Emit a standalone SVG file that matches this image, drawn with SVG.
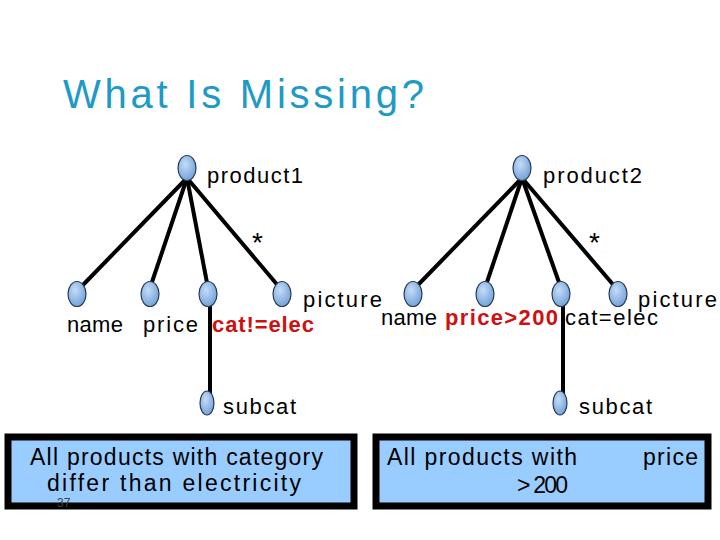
<svg xmlns="http://www.w3.org/2000/svg" width="720" height="540" viewBox="0 0 720 540">
<defs>
<radialGradient id="g" cx="0.4" cy="0.35" r="0.7">
<stop offset="0" stop-color="#c4dcf7"/>
<stop offset="1" stop-color="#6f9fd6"/>
</radialGradient>
<style>
.n{fill:url(#g);stroke:#2a3a5a;stroke-width:1.2}
.e{stroke:#000;stroke-width:4;fill:none}
.t{font-family:"Liberation Sans","DejaVu Sans",sans-serif;font-size:22px;fill:#000}
.r{font-family:"Liberation Sans","DejaVu Sans",sans-serif;font-size:22px;font-weight:bold;fill:#d01010}
.s{font-family:"Liberation Sans","DejaVu Sans",sans-serif;font-size:28px;fill:#000}
.b{fill:#99ccff;stroke:#000;stroke-width:7}
.bt{font-family:"Liberation Sans","DejaVu Sans",sans-serif;font-size:23px;fill:#000}
</style>
</defs>
<rect width="720" height="540" fill="#fff"/>
<text x="63" y="108" font-family="Liberation Sans, DejaVu Sans, sans-serif" font-size="40" fill="#1e9bc4" textLength="361">What Is Missing?</text>
<g id="connectors">
<line class="e" x1="187" y1="178" x2="80" y2="288"/>
<line class="e" x1="187" y1="178" x2="150" y2="288"/>
<line class="e" x1="187" y1="178" x2="208" y2="288"/>
<line class="e" x1="187" y1="178" x2="280" y2="288"/>
<line class="e" x1="210" y1="300" x2="210" y2="398"/>
<line class="e" x1="522" y1="178" x2="415" y2="288"/>
<line class="e" x1="522" y1="178" x2="485" y2="288"/>
<line class="e" x1="522" y1="178" x2="561" y2="288"/>
<line class="e" x1="522" y1="178" x2="616" y2="288"/>
<line class="e" x1="563" y1="300" x2="563" y2="398"/>
</g>
<g id="product1"><ellipse class="n" cx="187" cy="168" rx="9" ry="12.5"/><text class="t" x="207" y="183" textLength="96">product1</text></g>
<g id="product2"><ellipse class="n" cx="522" cy="168" rx="9" ry="12.5"/><text class="t" x="543" y="183" textLength="99">product2</text></g>
<text class="s" x="252" y="252">*</text>
<text class="s" x="589" y="252">*</text>
<g id="name1"><ellipse class="n" cx="77" cy="294" rx="9" ry="12.5"/><text class="t" x="67" y="332" textLength="56">name</text></g>
<g id="price1"><ellipse class="n" cx="150" cy="294" rx="9" ry="12.5"/><text class="t" x="143" y="332" textLength="55">price</text></g>
<g id="cat1"><ellipse class="n" cx="208" cy="294" rx="9" ry="12.5"/><text class="r" x="212" y="332" textLength="102">cat!=elec</text></g>
<g id="picture1"><ellipse class="n" cx="282" cy="294" rx="9" ry="12.5"/><text class="t" x="303" y="307" textLength="79">picture</text></g>
<g id="subcat1"><ellipse class="n" cx="207" cy="403" rx="7" ry="12"/><text class="t" x="223" y="414" textLength="73">subcat</text></g>
<g id="name2"><ellipse class="n" cx="413" cy="294" rx="9" ry="12.5"/><text class="t" x="381" y="325" textLength="56">name</text></g>
<g id="price2"><ellipse class="n" cx="485" cy="294" rx="9" ry="12.5"/><text class="r" x="445" y="325" textLength="113">price&gt;200</text></g>
<g id="cat2"><ellipse class="n" cx="561" cy="294" rx="9" ry="12.5"/><text class="t" x="565" y="325" textLength="93">cat=elec</text></g>
<g id="picture2"><ellipse class="n" cx="618" cy="294" rx="9" ry="12.5"/><text class="t" x="638" y="307" textLength="79">picture</text></g>
<g id="subcat2"><ellipse class="n" cx="560" cy="403" rx="7" ry="12"/><text class="t" x="579" y="414" textLength="73">subcat</text></g>
<g id="box1">
<rect class="b" x="8" y="437" width="346" height="69"/>
<text class="bt" x="30" y="465" textLength="293">All products with category</text>
<text class="bt" x="47" y="491" textLength="254">differ than electricity</text>
<text x="57" y="507" font-family="Liberation Sans, DejaVu Sans, sans-serif" font-size="12" fill="#444">37</text>
</g>
<g id="box2">
<rect class="b" x="376" y="437" width="332" height="69"/>
<text class="bt" x="387" y="465" textLength="190">All products with</text>
<text class="bt" x="643" y="465" textLength="55">price</text>
<text class="bt" x="517" y="493" font-size="19" textLength="51">&gt; 200</text>
</g>
</svg>
